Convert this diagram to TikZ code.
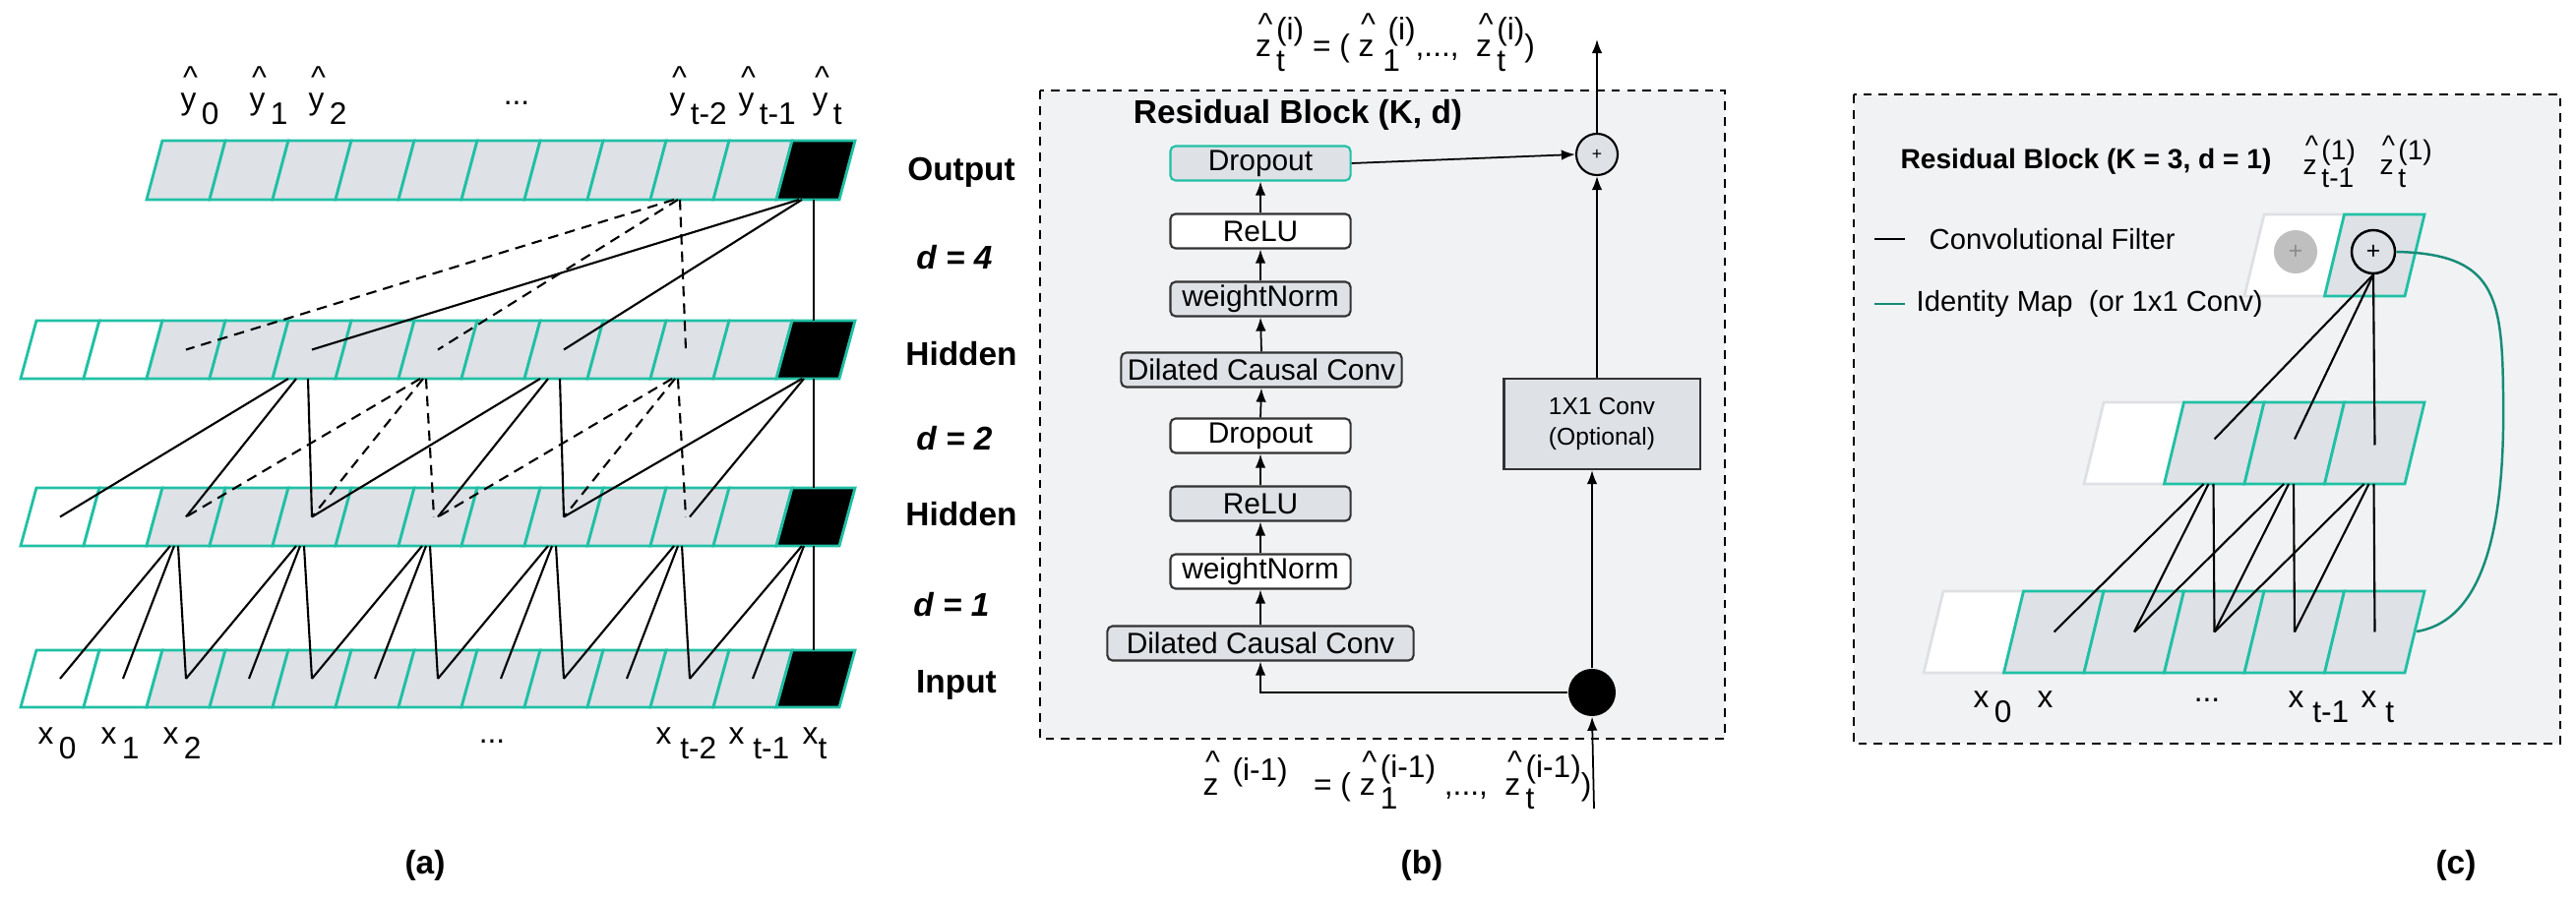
\documentclass[tikz,border=0pt]{standalone}
\usepackage{fontspec}
\setmainfont{Liberation Sans}
\usetikzlibrary{arrows.meta,calc}
\definecolor{teal1}{RGB}{32,192,165}
\definecolor{dteal}{RGB}{22,140,120}
\definecolor{cgrey}{RGB}{222,225,230}
\definecolor{bgg}{RGB}{241,242,244}
\definecolor{wb}{RGB}{222,224,228}
\newcommand{\hatc}[1]{\leavevmode\rlap{\raisebox{0.72em}{\kern0.08em\textasciicircum}}#1}
\newcommand{\lo}[1]{\raisebox{-0.45em}{#1}}
\newcommand{\supsub}[2]{\raisebox{-0.45em}{\rlap{#2}}\raisebox{0.55em}{#1}}
\tikzset{
  cell/.style={draw=teal1,line width=0.8pt},
  gcell/.style={draw=teal1,line width=0.8pt,fill=cgrey},
  wcell/.style={draw=wb,line width=0.8pt,fill=white},
  lbl/.style={font=\fontsize{9}{11}\selectfont,inner sep=0pt},
  clbl/.style={font=\fontsize{8}{10}\selectfont,inner sep=0pt},
  rl/.style={font=\fontsize{9.5}{11}\selectfont\bfseries,inner sep=0pt},
  box/.style={draw=black!80,rounded corners=1.5pt,line width=0.6pt,minimum height=0.35cm,font=\fontsize{8.5}{10}\selectfont,inner sep=0pt},
  arr/.style={-{Latex[length=4pt,width=3pt]},line width=0.5pt},
  conn/.style={line width=0.6pt},
  dconn/.style={line width=0.6pt,dash pattern=on 3pt off 2pt},
}
\begin{document}
\begin{tikzpicture}[x=0.01cm,y=-0.01cm]
\useasboundingbox (0,0) rectangle (2618,916);
% ================= panel (a)
\foreach \r/\yt/\yb/\ks in {o/143/203/2,a/326/385/0,b/496/555/0,i/661/719/0}{
  \foreach \k in {\ks,...,12}{
    \pgfmathsetmacro{\xx}{21+64*\k}
    \ifnum\k=12 \def\fc{black}\else\ifnum\k<2 \def\fc{white}\else\def\fc{cgrey}\fi\fi
    \draw[cell,fill=\fc] (\xx,\yb) -- ++(16,{\yt-\yb}) -- ++(64,0) -- ++(-16,{\yb-\yt}) -- cycle;
    \coordinate (\r\k) at ({61+64*\k},{(\yt+\yb)/2});
    \coordinate (\r\k b) at ({49+64*\k},\yb);
  }
  \coordinate (\r T) at (827,\yt);
  \coordinate (\r B) at (827,\yb);
}
% out -> h1
\draw[conn] ([xshift=-0.05cm]o12b) -- (a4);
\draw[conn] ([xshift=-0.02cm]o12b) -- (a8);
\draw[conn] (oB) -- (aT);
\draw[dconn] ([xshift=-0.04cm]o10b) -- (a2);
\draw[dconn] (o10b) -- (a6);
\draw[dconn] ([xshift=0.02cm]o10b) -- ([xshift=-0.04cm]a10);
% h1 -> h2
\foreach \s/\t in {4/0,8/4}{
  \pgfmathtruncatemacro{\m}{\t+2}\pgfmathtruncatemacro{\n}{\t+4}
  \draw[conn] ([xshift=-0.12cm]a\s b) -- (b\t);
  \draw[conn] ([xshift=-0.04cm]a\s b) -- (b\m);
  \draw[conn] ([xshift=0.08cm]a\s b) -- (b\n);
}
\draw[conn] ([xshift=-0.02cm]a12b) -- (b8);
\draw[conn] (a12b) -- (b10);
\draw[conn] (aB) -- (bT);
\foreach \s/\t in {6/2,10/6}{
  \pgfmathtruncatemacro{\m}{\t+2}\pgfmathtruncatemacro{\n}{\t+4}
  \draw[dconn] ([xshift=-0.06cm]a\s b) -- (b\t);
  \draw[dconn] ([xshift=-0.03cm]a\s b) -- (b\m);
  \draw[dconn] (a\s b) -- ([xshift=-0.04cm]b\n);
}
% h2 -> input
\foreach \s in {2,4,6,8,10}{
  \pgfmathtruncatemacro{\t}{\s-2}\pgfmathtruncatemacro{\m}{\s-1}
  \draw[conn] ([xshift=-0.04cm]b\s b) -- (i\t);
  \draw[conn] (b\s b) -- (i\m);
  \draw[conn] ([xshift=0.04cm]b\s b) -- (i\s);
}
\draw[conn] ([xshift=-0.02cm]b12b) -- (i10);
\draw[conn] (b12b) -- (i11);
\draw[conn] (bB) -- (iT);
% labels (a)
\foreach \x/\s in {193/0,263/1,323/2}{\node[lbl,anchor=base west] (yh\s) at (\x-10,112) {\hatc{y}\,\lo{\s}};}
\node[lbl] (yd) at (525,105) {...};
\node[lbl,anchor=base west] (yt2) at (680,112) {\hatc{y}\,\lo{t-2}};
\node[lbl,anchor=base west] (yt1) at (750,112) {\hatc{y}\,\lo{t-1}};
\node[lbl,anchor=base west] (yt) at (825,112) {\hatc{y}\,\lo{t}};
\foreach \x/\s in {53/0,117/1,180/2}{\node[lbl,anchor=base west] (xl\s) at (\x-15,757) {x\,\lo{\s}};}
\node[lbl] (xd) at (500,754) {...};
\node[lbl,anchor=base west] (xt2) at (666,757) {x \lo{t-2}};
\node[lbl,anchor=base west] (xt1) at (740,757) {x \lo{t-1}};
\node[lbl,anchor=base west] (xt) at (815,757) {x\lo{t}};
\node[rl] (lo) at (977,175) {Output};
\node[rl] (l4) at (970,262) {\itshape d = 4};
\node[rl] (lh1) at (977,360) {Hidden};
\node[rl] (l2) at (970,446) {\itshape d = 2};
\node[rl] (lh2) at (977,523) {Hidden};
\node[rl] (l1) at (967,615) {\itshape d = 1};
\node[rl] (li) at (972,696) {Input};
\node[rl] (ca) at (432,880) {(a)};
% ================= panel (b)
\draw[fill=bgg,dash pattern=on 2.5pt off 2pt,line width=0.6pt] (1057,92) rectangle (1753,751);
\node[rl,font=\fontsize{9.5}{11}\selectfont\bfseries] (tb) at (1319,117) {Residual Block (K, d)};
\node[box,fill=cgrey,draw=teal1,minimum width=1.83cm] (dr2) at (1281,166) {Dropout};
\node[box,fill=white,minimum width=1.83cm] (re2) at (1281,235) {ReLU};
\node[box,fill=cgrey,minimum width=1.83cm] (wn2) at (1281,304) {weightNorm};
\node[box,fill=cgrey,minimum width=2.85cm] (dc2) at (1282,376) {Dilated Causal Conv};
\node[box,fill=white,minimum width=1.83cm] (dr1) at (1281,443) {Dropout};
\node[box,fill=cgrey,minimum width=1.83cm] (re1) at (1281,512) {ReLU};
\node[box,fill=white,minimum width=1.83cm] (wn1) at (1281,581) {weightNorm};
\node[box,fill=cgrey,minimum width=3.11cm] (dc1) at (1281,654) {Dilated Causal Conv};
\node[draw=black!80,line width=0.6pt,fill=cgrey,minimum width=1.99cm,minimum height=0.92cm,align=center,font=\fontsize{7}{9}\selectfont] (cv) at (1628,431) {1X1 Conv\\(Optional)};
\node[circle,draw,line width=0.6pt,fill=cgrey,minimum size=0.42cm,inner sep=0pt,font=\fontsize{5}{5}\selectfont] (pl) at (1623,157) {+};
\node[circle,fill=black,minimum size=0.48cm,inner sep=0pt] (dot) at (1618,704) {};
\coordinate (inb) at (1620,822);
\coordinate (outb) at (1623,40);
\draw[arr] (dc1.north) -- (wn1.south);
\draw[arr] (wn1.north) -- (re1.south);
\draw[arr] (re1.north) -- (dr1.south);
\draw[arr] (dr1.north) -- (dc2.south);
\draw[arr] (dc2.north) -- (wn2.south);
\draw[arr] (wn2.north) -- (re2.south);
\draw[arr] (re2.north) -- (dr2.south);
\draw[arr] (dr2.east) -- (pl.west);
\draw[arr] (inb) -- (dot.south);
\draw[arr] (dot.west) -| (dc1.south);
\draw[arr] (dot.north) -- (cv.south -| dot.north);
\draw[arr] (cv.north -| pl.south) -- (pl.south);
\draw[arr] (pl.north) -- (outb);
\node[lbl,anchor=base] (zo) at (1418,58) {\hatc{z}\,\supsub{(i)}{t} = ( \hatc{z}\;\supsub{\,(i)}{1},...,\ \ \hatc{z}\,\supsub{(i)}{t})};
\node[lbl,anchor=base] (zi) at (1420,808) {\hatc{z}\, \raisebox{0.45em}{(i-1)} \ \ = ( \hatc{z}\,\supsub{(i-1)}{1} ,...,\ \ \hatc{z}\,\supsub{(i-1)}{t})};
\node[rl] (cb) at (1445,880) {(b)};
% ================= panel (c)
\draw[fill=bgg,dash pattern=on 2.5pt off 2pt,line width=0.6pt] (1884,96) rectangle (2602,756);
\node[rl,font=\fontsize{8}{10}\selectfont\bfseries] (tc) at (2120,164) {Residual Block (K = 3, d = 1)};
\foreach \r/\yt/\yb/\ks/\kw in {t/218/301/4/4,m/409/492/2/2,c/601/684/0/0}{
  \foreach \k in {\ks,...,5}{
    \pgfmathsetmacro{\xx}{1955+81.5*\k}
    \ifnum\k=\kw \def\st{wcell}\else\def\st{gcell}\fi
    \draw[\st] (\xx,\yb) -- ++(20,{\yt-\yb}) -- ++(81.5,0) -- ++(-20,{\yb-\yt}) -- cycle;
    \coordinate (\r\k) at ({2006+81.5*\k},{(\yt+\yb)/2});
    \coordinate (\r\k b) at ({2000+81.5*\k},\yb);
  }
}
\node[circle,fill=black!25,minimum size=0.44cm,inner sep=0pt,text=black!45,font=\fontsize{7}{7}\selectfont] (pg) at (2333,256) {+};
\node[circle,draw,line width=0.7pt,fill=cgrey,minimum size=0.44cm,inner sep=0pt,font=\fontsize{7}{7}\selectfont] (pc) at (2412,256) {+};
\draw[conn] (pc.south) -- ([yshift=0.04cm]m3);
\draw[conn] (pc.south) -- ([yshift=0.04cm]m4);
\draw[conn] (pc.south) -- ([yshift=-0.02cm]m5);
\foreach \s in {3,4,5}{
  \pgfmathtruncatemacro{\t}{\s-2}\pgfmathtruncatemacro{\m}{\s-1}
  \draw[conn] ([xshift=-0.05cm]m\s b) -- (c\t);
  \draw[conn] (m\s b) -- (c\m);
  \draw[conn] ([xshift=0.05cm]m\s b) -- (c\s);
}
\coordinate (ce) at (2456,642);
\draw[dteal,line width=0.7pt] (pc.east) .. controls (2535,258) and (2543,300) .. (2544,400) .. controls (2546,520) and (2530,630) .. (ce);
\coordinate (lg1a) at (1905,243); \coordinate (lg1b) at (1936,243);
\draw[line width=0.7pt] (lg1a) -- (lg1b);
\node[clbl,font=\fontsize{8.3}{10}\selectfont,anchor=west] (lg1) at (1960,243) {Convolutional Filter};
\coordinate (lg2a) at (1905,309); \coordinate (lg2b) at (1936,309);
\draw[dteal,line width=0.6pt] (lg2a) -- (lg2b);
\node[clbl,font=\fontsize{8.3}{10}\selectfont,anchor=west] (lg2) at (1947,309) {Identity Map\ \ (or 1x1 Conv)};
\node[clbl,anchor=base west] (zc1) at (2340,178) {\hatc{z}\,\supsub{(1)}{t-1}};
\node[clbl,anchor=base west] (zc2) at (2418,178) {\hatc{z}\,\supsub{(1)}{t}};
\node[lbl,anchor=base west] (cx0) at (2005,720) {x\,\lo{0}};
\node[lbl,anchor=base west] (cx1) at (2070,720) {x};
\node[lbl] (cxd) at (2243,712) {...};
\node[lbl,anchor=base west] (cx2) at (2325,720) {x \lo{t-1}};
\node[lbl,anchor=base west] (cx3) at (2399,720) {x \lo{t}};
\node[rl] (cc) at (2496,880) {(c)};
\end{tikzpicture}
\end{document}
